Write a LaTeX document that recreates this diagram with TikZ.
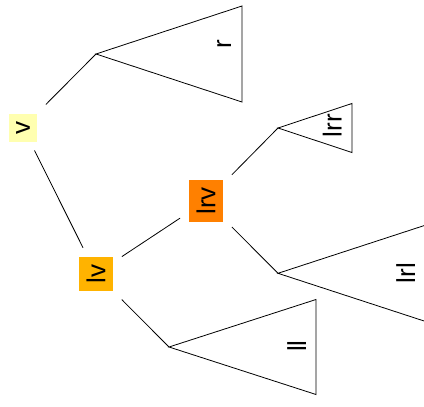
\documentclass[tikz,border=0pt]{standalone}
\usepackage{fontspec}
\setmainfont{Liberation Sans}
\usepackage{tikz}
\usetikzlibrary{positioning}
\definecolor{vpale}{RGB}{255,255,176}
\definecolor{vamber}{RGB}{255,179,0}
\definecolor{vorange}{RGB}{255,128,0}
\tikzset{
  treenode/.style={rectangle,rotate=90,inner sep=7.5pt,outer sep=9pt,font=\fontsize{26}{30}\selectfont},
  leaflabel/.style={rotate=90,anchor=base,inner sep=0pt,font=\fontsize{26}{30}\selectfont},
  treeedge/.style={draw=black,line width=0.8pt},
  subtree/.style={draw=black,line width=0.8pt,line join=miter}
}

\begin{document}
\begin{tikzpicture}[x=1pt,y=-1pt]
  \useasboundingbox (0,0) rectangle (424,407);
  \clip (0,0) rectangle (424,407);
  \node[treenode,fill=vpale] (v) at (23,127.5) {v};
  \node[treenode,fill=vamber] (lv) at (96,273.7) {lv};
  \node[treenode,fill=vorange] (lrv) at (206,201) {lrv};
  \coordinate (rtip) at (96,54);
  \coordinate (lltip) at (169,347);
  \coordinate (lrrtip) at (278,128);
  \coordinate (lrltip) at (278,273.3);
  \draw[treeedge] (v) -- (rtip);
  \draw[treeedge] (v) -- (lv);
  \draw[treeedge] (lv) -- (lrv);
  \draw[treeedge] (lv) -- (lltip);
  \draw[treeedge] (lrv) -- (lrrtip);
  \draw[treeedge] (lrv) -- (lrltip);
  % collapsed subtrees
  \draw[subtree] (rtip) -- ++(146,-48) -- ++(0,96) -- cycle;
  \draw[subtree] (lltip) -- ++(147,-47.5) -- ++(0,95) -- cycle;
  \draw[subtree] (lrrtip) -- ++(74,-24.5) -- ++(0,49) -- cycle;
  \draw[subtree] (lrltip) -- ++(147,-48) -- ++(0,96) -- cycle;
  \node[leaflabel] (rlab) at (231,44.5) {r};
  \node[leaflabel] (lllab) at (306,346) {ll};
  \node[leaflabel] (lrrlab) at (341.5,125.5) {lrr};
  \node[leaflabel] (lrllab) at (415,273) {lrl};
\end{tikzpicture}
\end{document}
